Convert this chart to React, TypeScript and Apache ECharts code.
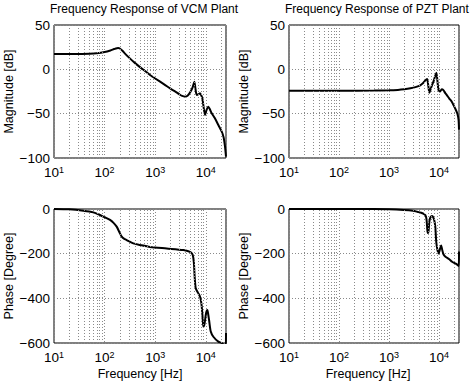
import React, { useEffect, useRef } from "react";
import * as echarts from "echarts";

// ---------- data ----------
const vcmMagHz = [10, 30, 50, 70, 100, 130, 160, 185, 200, 225, 250, 300, 400, 500, 600, 800, 1000, 1500, 2000, 2500, 3000, 3400, 3900, 4400, 5000, 5500, 5930, 6200, 6610, 7200, 7680, 8200, 8530, 9000, 9640, 10300, 11200, 12000, 13080, 15000, 17660, 20600, 22500, 23900, 25000];
const vcmMagDb = [17.3, 17.4, 17.6, 18.1, 19.5, 21.3, 23.2, 24.0, 23.5, 21, 18, 13.5, 7, 2.5, -1, -6.6, -10.3, -16.9, -21.8, -25.2, -28.2, -30, -30.8, -29.5, -25, -20, -13.9, -21, -29, -28, -27, -30, -32.7, -42, -51.5, -46, -42.1, -45, -49.6, -55, -62.8, -70.3, -77, -87.3, -98.5];

const vcmPhaseHz = [10, 20, 38, 60, 81, 100, 128, 150, 173, 195, 218, 245, 273, 369, 500, 789, 1690, 3590, 4500, 5100, 5510, 5800, 6000, 6310, 7110, 7680, 8000, 8300, 8650, 8930, 9340, 10090, 10710, 11100, 11570, 12500, 14070, 17660, 20600, 23000, 24700, 25000];
const vcmPhaseDeg = [0, -1.5, -7.5, -15, -27, -37, -49, -62, -79, -103, -124, -134, -139, -154, -161, -170, -177, -184, -189, -195, -206, -240, -300, -355, -378, -393, -410, -437, -490, -527, -519, -467, -452, -470, -497, -549, -572, -594, -600, -612, -625, -555];

const pztMagHz = [10, 100, 500, 1000, 1500, 2000, 2670, 3500, 4200, 4800, 5300, 5750, 6100, 6400, 6800, 7200, 7800, 8400, 8830, 9300, 9700, 10400, 11300, 12200, 13200, 14250, 16000, 17930, 20900, 23230, 24500, 25000];
const pztMagDb = [-24.1, -24.1, -24.0, -23.7, -23.2, -22.5, -21.4, -19.8, -18, -15.5, -12.5, -11, -19, -26.3, -22, -18, -13, -7, -3.8, -14, -23, -25, -22.5, -23.5, -26.5, -29, -33, -36.5, -44, -50, -57, -68];

const pztPhaseHz = [10, 500, 1000, 1970, 3000, 3630, 4400, 4850, 5300, 5600, 5800, 5940, 6150, 6400, 6700, 7200, 7480, 8000, 8400, 8800, 9300, 9800, 10400, 11000, 11600, 12300, 13400, 16000, 18200, 21500, 24800, 25000];
const pztPhaseDeg = [0, -0.5, -1.5, -4.5, -8, -12, -17, -21, -27, -45, -90, -108, -100, -55, -38, -31, -34, -50, -80, -150, -185, -199, -180, -163, -185, -204, -214, -225, -236, -245, -255, -190];

const titles = ["Frequency Response of VCM Plant", "Frequency Response of PZT Plant"];
const magTicks = { min: -100, max: 50, interval: 50 };
const phaseTicks = { min: -600, max: 0, interval: 200 };
const freqRange = { min: 10, max: 25000 };
const decades = [10, 100, 1000, 10000];
const minorSteps = [2, 3, 4, 5, 6, 7, 8, 9];

const FONT = '"Liberation Sans", Arial, Helvetica, sans-serif';

const zip = (xs: number[], ys: number[]) => xs.map((x, i) => [x, ys[i]]);

const minorGrid = decades
  .flatMap((d) => minorSteps.map((k) => d * k))
  .filter((v) => v < freqRange.max);

const gridDot = { color: "#8a8a8a", type: [1, 2] as any, width: 1 };

const xFmt = (v: number) => {
  const e = Math.log10(v);
  if (Math.abs(e - Math.round(e)) > 1e-6) return "";
  return `{b|10}{s|${Math.round(e)}}`;
};
const yFmt = (v: number) => (v < 0 ? "\u2212" + Math.abs(v) : String(v));

export default function App() {
  const ref = useRef<HTMLDivElement>(null);
  useEffect(() => {
    if (!ref.current) return;
    const chart = echarts.init(ref.current, undefined, { renderer: "svg" });

    const grids = [
      { left: 54, top: 25, width: 172, height: 133 },
      { left: 289, top: 25, width: 170, height: 133 },
      { left: 54, top: 209, width: 172, height: 134 },
      { left: 289, top: 209, width: 170, height: 134 },
    ].map((g) => ({ ...g, show: true, borderColor: "#000", borderWidth: 1, backgroundColor: "transparent" }));

    const xAxes = grids.map((_, i) => ({
      type: "log",
      logBase: 10,
      gridIndex: i,
      min: freqRange.min,
      max: freqRange.max,
      axisLine: { show: false },
      axisTick: { show: false },
      splitLine: { show: true, lineStyle: gridDot },
      axisLabel: {
        formatter: xFmt,
        margin: 7,
        showMaxLabel: false,
        rich: {
          b: { fontSize: 13.5, fontFamily: FONT, color: "#000", lineHeight: 14, verticalAlign: "bottom" },
          s: { fontSize: 9, fontFamily: FONT, color: "#000", lineHeight: 10, padding: [0, 0, 8, 0], verticalAlign: "top" },
        },
      },
      name: i >= 2 ? "Frequency [Hz]" : "",
      nameLocation: "middle",
      nameGap: 21,
      nameTextStyle: {
        fontSize: 12.5,
        fontFamily: FONT,
        color: "#000",
        padding: i === 3 ? [0, 12, 0, 0] : [0, 0, 0, 0],
      },
    }));

    const yAxes = grids.map((_, i) => {
      const t = i < 2 ? magTicks : phaseTicks;
      return {
        type: "value",
        gridIndex: i,
        min: t.min,
        max: t.max,
        interval: t.interval,
        axisLine: { show: false },
        axisTick: { show: false },
        splitLine: { show: true, lineStyle: gridDot },
        axisLabel: { formatter: yFmt, fontSize: 13.5, fontFamily: FONT, color: "#000", margin: 4 },
        name: i < 2 ? "Magnitude [dB]" : "Phase [Degree]",
        nameLocation: "middle",
        nameGap: i % 2 === 0 ? 26 : 23,
        nameTextStyle: { fontSize: 12.5, fontFamily: FONT, color: "#000" },
      };
    });

    const datasets = [
      zip(vcmMagHz, vcmMagDb),
      zip(pztMagHz, pztMagDb),
      zip(vcmPhaseHz, vcmPhaseDeg),
      zip(pztPhaseHz, pztPhaseDeg),
    ];

    const series = datasets.map((d, i) => ({
      type: "line",
      xAxisIndex: i,
      yAxisIndex: i,
      data: d,
      showSymbol: false,
      smooth: 0.25,
      clip: true,
      lineStyle: { color: "#000", width: 2 },
      markLine: {
        silent: true,
        symbol: ["none", "none"],
        label: { show: false },
        lineStyle: gridDot,
        data: minorGrid.map((v) => ({ xAxis: v })),
        animation: false,
      },
    }));

    const titleStyle = { fontSize: 12, fontWeight: "normal", fontFamily: FONT, color: "#000" };
    chart.setOption({
      animation: false,
      backgroundColor: "#fff",
      title: [
        { text: titles[0], left: 50, top: 3, padding: 0, textStyle: titleStyle },
        { text: titles[1], left: 285, top: 3, padding: 0, textStyle: titleStyle },
      ],
      grid: grids,
      xAxis: xAxes,
      yAxis: yAxes,
      series,
    });
    return () => chart.dispose();
  }, []);
  return <div ref={ref} style={{ position: "fixed", left: 0, top: 0, width: 474, height: 385 }} />;
}
